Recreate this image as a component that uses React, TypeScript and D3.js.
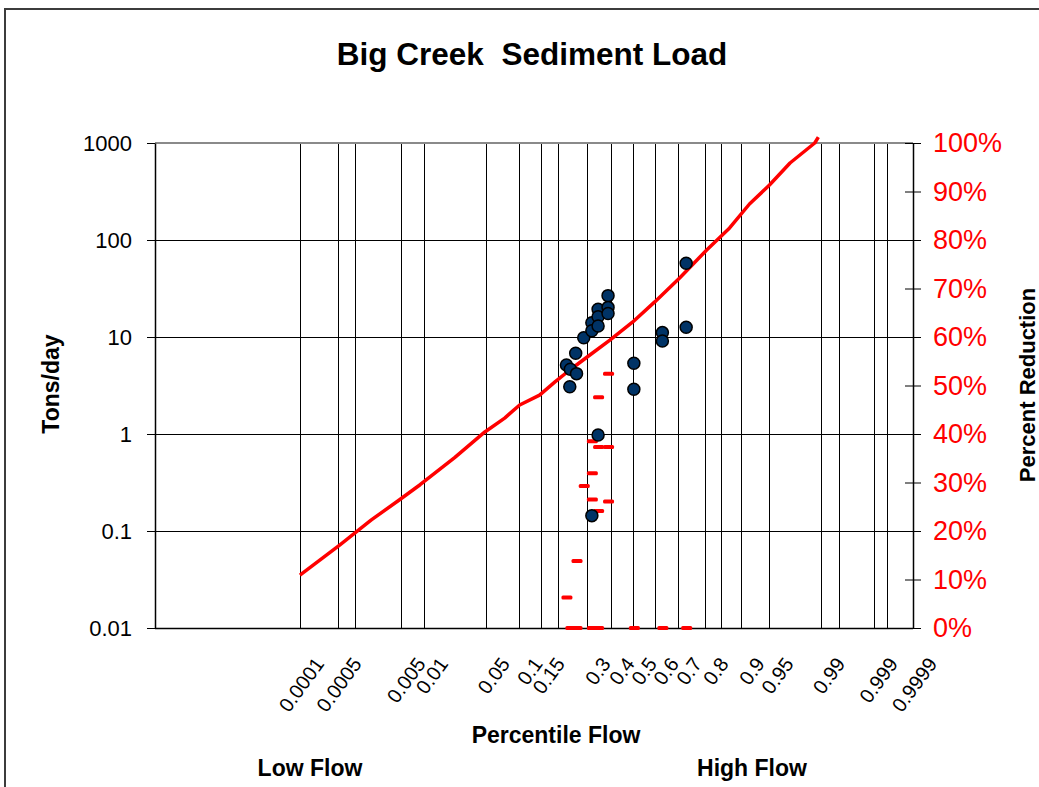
import React, { useRef, useEffect } from 'react';
import * as d3 from 'd3';

// load duration curve (percentile flow -> tons/day)
const curvePct = [0.0001, 0.00055, 0.0018, 0.0047, 0.0089, 0.0234, 0.049, 0.0755, 0.102, 0.147, 0.19, 0.238, 0.313, 0.397, 0.5, 0.6, 0.707, 0.807, 0.874, 0.918, 0.95, 0.972, 0.9875, 0.989]
const curveLoad = [0.035, 0.072, 0.13, 0.21, 0.30, 0.57, 1.05, 1.46, 1.99, 2.52, 3.44, 4.57, 6.52, 9.3, 14.3, 23, 40.6, 78.9, 133, 235, 369, 622, 1000, 1150]

// observed samples
const samplePct = [0.2266, 0.238, 0.240, 0.259, 0.262, 0.289, 0.321, 0.321, 0.3466, 0.3466, 0.3466, 0.389, 0.389, 0.389, 0.505, 0.505, 0.634, 0.634, 0.733, 0.733, 0.3466, 0.321]
const sampleLoad = [5.14, 3.07, 4.65, 6.79, 4.19, 9.84, 14.0, 11.6, 19.3, 16.2, 13.0, 26.7, 20.2, 17.5, 5.36, 2.89, 11.1, 9.1, 57.5, 12.6, 0.977, 0.144]

// percent reduction needed
const reductionPct = [0.389, 0.3466, 0.321, 0.3466, 0.389, 0.321, 0.289, 0.321, 0.389, 0.3466, 0.262, 0.2266, 0.240, 0.262, 0.321, 0.3466, 0.505, 0.634, 0.733]
const reductionVal = [0.524, 0.476, 0.385, 0.373, 0.373, 0.319, 0.293, 0.265, 0.261, 0.241, 0.138, 0.063, 0, 0, 0, 0, 0, 0, 0]

const gridPct = [0.0001, 0.0005, 0.001, 0.005, 0.01, 0.05, 0.1, 0.15, 0.2, 0.3, 0.4, 0.5, 0.6, 0.7, 0.8, 0.85, 0.9, 0.95, 0.99, 0.995, 0.999, 0.9995, 0.9999]
const labelPct = [0.0001, 0.0005, 0.005, 0.01, 0.05, 0.1, 0.15, 0.3, 0.4, 0.5, 0.6, 0.7, 0.8, 0.9, 0.95, 0.99, 0.999, 0.9999]
const loadTicks = [0.01, 0.1, 1, 10, 100, 1000]
const pctTicks = [0, 0.1, 0.2, 0.3, 0.4, 0.5, 0.6, 0.7, 0.8, 0.9, 1]

// inverse normal cdf (Acklam)
function normInv(p: number) {
  const a = [-3.969683028665376e+01, 2.209460984245205e+02, -2.759285104469687e+02, 1.383577518672690e+02, -3.066479806614716e+01, 2.506628277459239e+00]
  const b = [-5.447609879822406e+01, 1.615858368580409e+02, -1.556989798598866e+02, 6.680131188771972e+01, -1.328068155288572e+01]
  const c = [-7.784894002430293e-03, -3.223964580411365e-01, -2.400758277161838e+00, -2.549732539343734e+00, 4.374664141464968e+00, 2.938163982698783e+00]
  const d = [7.784695709041462e-03, 3.224671290700398e-01, 2.445134137142996e+00, 3.754408661907416e+00]
  const pl = 0.02425
  if (p < pl) {
    const q = Math.sqrt(-2 * Math.log(p))
    return (((((c[0] * q + c[1]) * q + c[2]) * q + c[3]) * q + c[4]) * q + c[5]) / ((((d[0] * q + d[1]) * q + d[2]) * q + d[3]) * q + 1)
  }
  if (p <= 1 - pl) {
    const q = p - 0.5, r = q * q
    return (((((a[0] * r + a[1]) * r + a[2]) * r + a[3]) * r + a[4]) * r + a[5]) * q / (((((b[0] * r + b[1]) * r + b[2]) * r + b[3]) * r + b[4]) * r + 1)
  }
  const q = Math.sqrt(-2 * Math.log(1 - p))
  return -(((((c[0] * q + c[1]) * q + c[2]) * q + c[3]) * q + c[4]) * q + c[5]) / ((((d[0] * q + d[1]) * q + d[2]) * q + d[3]) * q + 1)
}

// the chart's probability axis is a little squeezed toward the tails
const warp = (z: number) => z - 0.0218 * z * z - 0.00395 * z * z * z
const probit = (p: number) => warp(normInv(p))

function Chart() {
  const ref = useRef<SVGSVGElement>(null)
  const outerWidth = 1039, outerHeight = 787
  const margin = { top: 143, left: 155 }
  const width = 758, height = 485
  const font = 'Arial, "Liberation Sans", sans-serif'

  useEffect(() => {
    draw()
  }, [])

  const draw = () => {
    const svg = d3.select(ref.current)
    svg.selectAll('*').remove()
    svg.style('font-family', font)

    // outer chart border
    svg.append('path')
      .attr('d', `M5,${outerHeight} V9 H${outerWidth}`)
      .attr('fill', 'none').attr('stroke', '#3c3c3c').attr('stroke-width', 2)

    svg.append('text')
      .attr('x', 532).attr('y', 65)
      .attr('text-anchor', 'middle')
      .style('white-space', 'pre')
      .style('font-size', '31.5px').style('font-weight', 'bold')
      .text('Big Creek  Sediment Load')

    const g = svg.append('g').attr('transform', `translate(${margin.left},${margin.top})`)

    const xScale = d3.scaleLinear()
      .domain([-5.48, probit(0.9999)])
      .range([0, width])
    const yScale = d3.scaleLog().domain([0.01, 1000]).range([height, 0])
    const yRight = d3.scaleLinear().domain([0, 1]).range([height, 0])
    const px = (p: number) => xScale(probit(p))

    // gridlines
    g.selectAll('.vgrid').data(gridPct).enter().append('line')
      .attr('x1', d => Math.round(px(d)) + 0.5).attr('x2', d => Math.round(px(d)) + 0.5)
      .attr('y1', 0).attr('y2', height)
      .attr('stroke', '#000').attr('stroke-width', 1)
    g.selectAll('.hgrid').data(loadTicks.slice(1, -1)).enter().append('line')
      .attr('x1', 0).attr('x2', width)
      .attr('y1', d => Math.round(yScale(d)) + 0.5).attr('y2', d => Math.round(yScale(d)) + 0.5)
      .attr('stroke', '#000').attr('stroke-width', 1)
    g.append('line')
      .attr('x1', 0).attr('x2', width).attr('y1', 0).attr('y2', 0)
      .attr('stroke', '#8a8a8a').attr('stroke-width', 2)
    g.append('line')
      .attr('x1', 0).attr('x2', width).attr('y1', height + 0.5).attr('y2', height + 0.5)
      .attr('stroke', '#000').attr('stroke-width', 1.5)

    // left axis
    const yAxis = d3.axisLeft(yScale)
      .tickValues(loadTicks)
      .tickFormat(d => String(d))
      .tickSizeInner(8).tickSizeOuter(0).tickPadding(15)
    const ya = g.append('g').call(yAxis)
    ya.select('.domain').attr('stroke', '#000').attr('stroke-width', 1.5)
    ya.selectAll('text').style('font-size', '22px').attr('fill', '#000')
      .style('font-family', font)

    // right axis
    const rAxis = d3.axisRight(yRight)
      .tickValues(pctTicks)
      .tickFormat(d3.format('.0%'))
      .tickSizeInner(8).tickSizeOuter(0).tickPadding(12)
    const ra = g.append('g').attr('transform', `translate(${width},0)`).call(rAxis)
    ra.select('.domain').attr('stroke', '#000').attr('stroke-width', 1.5)
    ra.selectAll('.tick line').attr('x1', -8)
    ra.selectAll('text').style('font-size', '27px').attr('fill', '#ff0000')
      .style('font-family', font)

    // x labels
    g.selectAll('.xlab').data(labelPct).enter().append('text')
      .attr('transform', d => `translate(${px(d) + 25},${height + 36}) rotate(-54)`)
      .attr('text-anchor', 'end')
      .style('font-size', '20px')
      .text(d => String(d))

    // load duration curve
    const line = d3.line<number>()
      .x((d, i) => px(curvePct[i]))
      .y(d => yScale(d))
    g.append('path')
      .datum(curveLoad)
      .attr('d', line)
      .attr('fill', 'none').attr('stroke', '#ff0000').attr('stroke-width', 3.5)
      .attr('stroke-linejoin', 'round')

    // reduction dashes
    g.selectAll('.dash').data(reductionVal).enter().append('rect')
      .attr('x', (d, i) => px(reductionPct[i]) - 5)
      .attr('y', d => yRight(d) - 2)
      .attr('width', 11).attr('height', 4).attr('rx', 1.5)
      .attr('fill', '#ff0000')

    // samples
    g.selectAll('.pt').data(sampleLoad).enter().append('circle')
      .attr('cx', (d, i) => px(samplePct[i]))
      .attr('cy', d => yScale(d))
      .attr('r', 6)
      .attr('fill', '#003366').attr('stroke', '#000').attr('stroke-width', 1.5)

    // axis titles
    svg.append('text')
      .attr('transform', 'translate(59,384) rotate(-90)')
      .attr('text-anchor', 'middle')
      .style('font-size', '23px').style('font-weight', 'bold')
      .text('Tons/day')
    svg.append('text')
      .attr('transform', 'translate(1035,385) rotate(-90)')
      .attr('text-anchor', 'middle')
      .style('font-size', '22px').style('font-weight', 'bold')
      .text('Percent Reduction')
    svg.append('text')
      .attr('x', 556).attr('y', 743)
      .attr('text-anchor', 'middle')
      .style('font-size', '23px').style('font-weight', 'bold')
      .text('Percentile Flow')
    svg.append('text')
      .attr('x', 310).attr('y', 776)
      .attr('text-anchor', 'middle')
      .style('font-size', '23px').style('font-weight', 'bold')
      .text('Low Flow')
    svg.append('text')
      .attr('x', 752).attr('y', 776)
      .attr('text-anchor', 'middle')
      .style('font-size', '23px').style('font-weight', 'bold')
      .text('High Flow')
  }

  return (
    <svg ref={ref} width={outerWidth} height={outerHeight}
      style={{ position: 'absolute', left: 0, top: 0, background: '#fff' }}>
    </svg>
  )
}

export default function App() {
  return <Chart />
}
